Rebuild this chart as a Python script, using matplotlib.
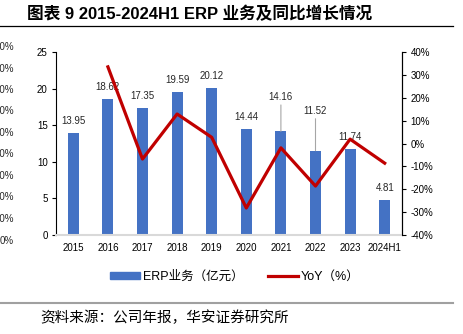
import matplotlib.pyplot as plt
import matplotlib.lines as mlines
import matplotlib.patches as mpatches

plt.rcParams['font.family'] = ['Liberation Sans', 'Noto Sans CJK SC']

years = ['2015', '2016', '2017', '2018', '2019', '2020', '2021', '2022', '2023', '2024H1']
erp = [13.95, 18.62, 17.35, 19.59, 20.12, 14.44, 14.16, 11.52, 11.74, 4.81]
yoy = [None, 33.5, -6.8, 12.9, 2.7, -28.2, -1.9, -18.6, 1.9, -8.6]
right_ticks = [-40, -30, -20, -10, 0, 10, 20, 30, 40]
# cut-off labels of a neighbouring chart at the left edge
stray = ['90%', '80%', '70%', '60%', '50%', '40%', '30%', '20%', '10%', '0%']

W, H = 464, 334
fig = plt.figure(figsize=(W / 100, H / 100), dpi=100)
ax = fig.add_axes([56 / W, 1 - 235 / H, (402 - 56) / W, (235 - 52) / H])
ax2 = ax.twinx()

bar_color = '#4472C4'
line_color = '#C00000'

x = list(range(len(years)))
ax.bar(x, erp, width=0.32, color=bar_color, zorder=2)
ax.set_xlim(-0.5, len(years) - 0.5)
ax.set_ylim(0, 25)
ax.set_yticks([0, 5, 10, 15, 20, 25])
ax.set_xticks(x)
ax.set_xticklabels(years)
ax.tick_params(axis='x', length=0, labelsize=7, pad=6)
ax.tick_params(axis='y', length=3, labelsize=7, direction='out', pad=3)
ax.spines['top'].set_visible(False)
ax.spines['bottom'].set_color('#D9D9D9')
ax.spines['bottom'].set_linewidth(1.5)

# label offsets in points (above bar top); some labels were dragged up
offsets = {6: 21, 7: 25}
for i, v in enumerate(erp):
    dy = offsets.get(i, 5)
    if i in offsets:
        ax.annotate(f'{v:.2f}', xy=(i, v), xytext=(0, dy), textcoords='offset points',
                    ha='center', va='bottom', fontsize=7, color='#262626',
                    arrowprops=dict(arrowstyle='-', color='#A6A6A6', lw=0.8,
                                    shrinkA=0, shrinkB=0))
    else:
        ax.annotate(f'{v:.2f}', xy=(i, v), xytext=(0, dy), textcoords='offset points',
                    ha='center', va='bottom', fontsize=7, color='#262626')

xs = [i for i, v in enumerate(yoy) if v is not None]
ys = [v for v in yoy if v is not None]
ax2.plot(xs, ys, color=line_color, linewidth=2.3, zorder=3)
ax2.set_ylim(-40, 40)
ax2.set_yticks(right_ticks)
ax2.set_yticklabels([f'{t}%' for t in right_ticks])
ax2.tick_params(axis='y', length=3, labelsize=7, direction='out', pad=3)
ax2.spines['top'].set_visible(False)
ax2.spines['bottom'].set_visible(False)
ax2.spines['left'].set_visible(False)
ax.set_zorder(ax2.get_zorder() - 1)
ax2.patch.set_visible(False)

handles = [mpatches.Patch(color=bar_color, label='ERP业务（亿元）'),
           mlines.Line2D([], [], color=line_color, linewidth=2.3, label='YoY（%）')]
leg = fig.legend(handles=handles, loc='center', bbox_to_anchor=(235 / W, 1 - 277 / H),
                 ncol=2, frameon=False, fontsize=9, handlelength=2.4, handleheight=0.5,
                 columnspacing=2.0, handletextpad=0.2)

fig.text(27 / W, 1 - 14 / H, '图表 9 2015-2024H1 ERP 业务及同比增长情况',
         fontsize=12, fontweight='bold', ha='left', va='center', color='black')
fig.add_artist(mlines.Line2D([0, 453 / W], [1 - 26 / H, 1 - 26 / H], color='black', lw=0.9))
fig.add_artist(mlines.Line2D([0, 453 / W], [1 - 303 / H, 1 - 303 / H], color='#A0A0A0', lw=1.5))
fig.text(40 / W, 1 - 318 / H, '资料来源：公司年报，华安证券研究所', fontsize=10.5,
         ha='left', va='center', color='black')

for k, s in enumerate(stray):
    fig.text(14 / W, 1 - (47 + k * 21.5) / H, s, fontsize=7, ha='right', va='center',
             color='#262626')

fig.savefig('out.png', dpi=100)
